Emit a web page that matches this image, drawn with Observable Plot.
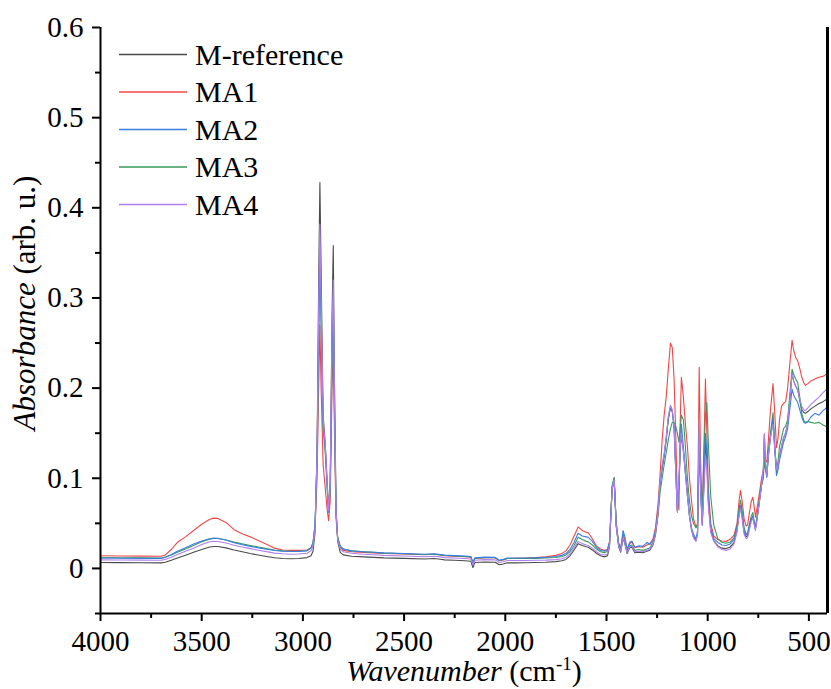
<!DOCTYPE html>
<html><head><meta charset="utf-8">
<script src="https://cdn.jsdelivr.net/npm/d3@7"></script>
<script src="https://cdn.jsdelivr.net/npm/@observablehq/plot@0.6"></script>
<style>body{margin:0;background:#fff}#chart{width:831px;height:689px}
svg, svg text{font-family:"Liberation Serif","Tinos","Times New Roman","DejaVu Serif",serif !important;}</style>
</head><body><div id="chart"></div>
<script>
const seriesNames = ["M-reference", "MA1", "MA2", "MA3", "MA4"];
const seriesColors = ["#4a4a4a", "#f04848", "#3a7fe0", "#3a9a5c", "#b080ee"];
const drawOrder = ["M-reference", "MA1", "MA3", "MA2", "MA4"];

const wavenumber = [4000,3900,3800,3700,3680,3650,3620,3580,3540,3500,3460,3440,3420,3380,3340,3300,3260,3220,3180,3140,3100,3060,3020,2980,2960,2950,2940,2930,2922,2916,2910,2900,2890,2880,2873,2865,2856,2850,2844,2836,2828,2815,2800,2760,2700,2650,2600,2500,2400,2350,2320,2300,2250,2200,2170,2160,2150,2100,2050,2030,2010,1990,1950,1900,1850,1800,1750,1720,1700,1680,1660,1640,1620,1600,1590,1570,1550,1530,1510,1495,1485,1472,1462,1452,1440,1430,1418,1410,1398,1385,1375,1360,1340,1320,1300,1285,1270,1258,1245,1235,1225,1215,1205,1195,1184,1175,1166,1158,1150,1142,1136,1130,1120,1110,1100,1090,1080,1070,1058,1050,1042,1035,1027,1018,1011,1004,997,985,970,950,930,910,890,870,855,845,838,830,820,810,803,795,785,777,770,764,750,735,725,720,715,708,700,690,677,668,660,652,645,635,625,615,605,595,583,575,565,555,545,535,525,517,505,490,470,450,430,410];

const ma1 = [.0140,.0138,.0136,.0135,.0150,.0210,.0290,.0350,.0420,.0490,.0545,.0558,.0555,.0510,.0430,.0385,.0350,.0310,.0268,.0225,.0205,.0200,.0200,.0205,.0230,.0280,.0450,.1000,.2000,.2700,.2000,.1150,.0900,.0650,.0530,.0750,.2000,.2500,.1500,.0550,.0330,.0230,.0200,.0185,.0178,.0172,.0165,.0160,.0152,.0158,.0150,.0140,.0135,.0130,.0125,.0060,.0110,.0120,.0118,.0085,.0095,.0110,.0112,.0115,.0120,.0128,.0145,.0165,.0195,.0260,.0360,.0460,.0420,.0400,.0395,.0330,.0250,.0215,.0200,.0210,.0300,.0900,.0980,.0500,.0280,.0220,.0380,.0330,.0210,.0270,.0300,.0230,.0240,.0235,.0260,.0275,.0330,.0450,.0720,.1050,.1420,.1700,.1900,.2200,.2500,.2450,.2100,.1500,.0800,.0650,.1600,.2120,.1900,.1600,.1350,.1000,.0750,.0550,.0460,.0500,.2230,.1200,.0570,.1400,.2100,.1500,.0900,.0500,.0360,.0320,.0305,.0300,.0320,.0370,.0500,.0750,.0865,.0750,.0550,.0470,.0480,.0600,.0740,.0790,.0680,.0570,.0750,.0980,.1100,.1230,.1200,.1180,.1420,.1750,.2050,.1700,.1340,.1450,.1650,.1800,.1830,.1850,.2000,.2250,.2530,.2420,.2340,.2300,.2220,.2120,.2060,.2030,.2050,.2080,.2100,.2120,.2130,.2160];

const ma2 = [.0115,.0113,.0112,.0111,.0125,.0155,.0190,.0230,.0270,.0305,.0330,.0336,.0335,.0315,.0285,.0262,.0245,.0228,.0212,.0198,.0190,.0188,.0188,.0195,.0225,.0280,.0480,.1250,.2700,.3600,.2800,.1600,.1350,.0900,.0620,.0900,.2400,.3000,.1800,.0600,.0340,.0245,.0215,.0195,.0185,.0180,.0172,.0165,.0158,.0162,.0155,.0148,.0142,.0138,.0132,.0065,.0118,.0125,.0122,.0090,.0100,.0115,.0115,.0115,.0118,.0122,.0132,.0145,.0165,.0210,.0290,.0390,.0360,.0350,.0345,.0300,.0235,.0200,.0190,.0210,.0290,.0880,.0970,.0480,.0270,.0215,.0420,.0360,.0210,.0290,.0300,.0235,.0250,.0245,.0290,.0265,.0310,.0420,.0650,.0950,.1100,.1250,.1450,.1650,.1800,.1750,.1550,.1100,.0640,.0900,.1300,.1600,.1350,.1100,.0850,.0600,.0450,.0380,.0330,.0420,.1500,.0900,.0500,.1000,.1500,.1300,.0800,.0450,.0330,.0290,.0260,.0255,.0270,.0320,.0450,.0620,.0700,.0600,.0420,.0370,.0380,.0460,.0550,.0580,.0500,.0440,.0650,.0900,.1050,.1450,.1150,.1010,.1250,.1450,.1660,.1300,.1030,.1100,.1200,.1300,.1400,.1460,.1550,.1750,.1990,.1920,.1880,.1840,.1760,.1680,.1620,.1610,.1630,.1680,.1720,.1700,.1750,.1790];

const ma3 = [.0120,.0118,.0117,.0116,.0125,.0150,.0180,.0215,.0255,.0295,.0325,.0332,.0332,.0315,.0292,.0272,.0255,.0238,.0220,.0205,.0195,.0190,.0190,.0198,.0228,.0285,.0490,.1200,.2500,.3400,.2700,.1550,.1300,.0900,.0630,.0880,.2300,.2900,.1700,.0600,.0340,.0245,.0215,.0195,.0185,.0178,.0170,.0163,.0155,.0158,.0150,.0143,.0138,.0133,.0128,.0062,.0112,.0120,.0118,.0088,.0098,.0110,.0110,.0110,.0112,.0115,.0122,.0132,.0150,.0185,.0255,.0345,.0320,.0300,.0295,.0260,.0215,.0185,.0175,.0190,.0270,.0920,.1010,.0520,.0280,.0210,.0350,.0300,.0190,.0250,.0260,.0200,.0210,.0200,.0215,.0230,.0290,.0400,.0600,.0850,.1000,.1150,.1280,.1420,.1550,.1620,.1620,.1580,.1500,.1400,.1550,.1700,.1650,.1350,.1000,.0750,.0580,.0500,.0450,.0480,.1550,.1000,.0600,.1300,.1700,.1840,.1400,.0800,.0480,.0330,.0290,.0280,.0290,.0340,.0470,.0660,.0755,.0650,.0450,.0380,.0390,.0480,.0580,.0620,.0520,.0450,.0680,.0920,.1000,.1200,.1100,.1020,.1300,.1500,.1730,.1350,.1070,.1200,.1350,.1450,.1550,.1580,.1650,.1900,.2210,.2150,.2100,.2060,.1900,.1720,.1640,.1620,.1630,.1620,.1610,.1620,.1590,.1570];

const ma4 = [.0095,.0093,.0092,.0091,.0100,.0125,.0155,.0190,.0225,.0265,.0295,.0300,.0298,.0282,.0258,.0238,.0220,.0202,.0186,.0170,.0162,.0158,.0160,.0168,.0195,.0250,.0440,.1250,.2900,.3820,.3000,.1650,.1400,.0950,.0640,.0950,.2600,.3200,.1900,.0620,.0320,.0215,.0185,.0168,.0158,.0152,.0145,.0138,.0130,.0135,.0128,.0120,.0115,.0110,.0105,.0040,.0090,.0098,.0095,.0065,.0075,.0088,.0088,.0088,.0090,.0092,.0098,.0108,.0125,.0160,.0225,.0300,.0275,.0260,.0255,.0225,.0185,.0158,.0148,.0160,.0255,.0880,.0985,.0480,.0250,.0190,.0340,.0290,.0175,.0240,.0245,.0185,.0190,.0185,.0200,.0215,.0270,.0380,.0620,.0980,.1150,.1280,.1450,.1680,.1810,.1760,.1600,.1100,.0620,.1000,.1350,.1500,.1300,.1050,.0800,.0580,.0430,.0340,.0300,.0380,.1640,.0900,.0480,.0900,.1250,.1100,.0700,.0400,.0300,.0240,.0210,.0200,.0215,.0270,.0410,.0590,.0660,.0560,.0380,.0330,.0340,.0420,.0520,.0560,.0480,.0420,.0640,.0900,.1100,.1500,.1200,.1030,.1250,.1450,.1600,.1300,.1100,.1150,.1250,.1350,.1450,.1500,.1600,.1850,.2160,.2080,.2020,.1980,.1880,.1800,.1760,.1750,.1780,.1820,.1860,.1900,.1950,.1990];

const mRef = [.0065,.0064,.0063,.0062,.0068,.0090,.0115,.0145,.0180,.0210,.0238,.0244,.0243,.0228,.0205,.0185,.0165,.0148,.0132,.0118,.0110,.0108,.0110,.0120,.0140,.0190,.0400,.1300,.3200,.4280,.3300,.1700,.1400,.0950,.0640,.0950,.2800,.3580,.2100,.0650,.0300,.0175,.0150,.0135,.0128,.0122,.0117,.0112,.0105,.0110,.0102,.0095,.0090,.0085,.0080,.0010,.0065,.0072,.0068,.0040,.0050,.0062,.0062,.0063,.0065,.0068,.0075,.0085,.0100,.0140,.0205,.0275,.0255,.0240,.0235,.0205,.0168,.0140,.0128,.0140,.0240,.0900,.1000,.0470,.0240,.0180,.0330,.0280,.0165,.0230,.0235,.0175,.0180,.0175,.0190,.0205,.0260,.0370,.0610,.0960,.1120,.1250,.1420,.1650,.1780,.1740,.1580,.1100,.0640,.0950,.1300,.1480,.1300,.1050,.0800,.0580,.0430,.0350,.0310,.0380,.1450,.0850,.0480,.0950,.1400,.1200,.0750,.0420,.0310,.0250,.0225,.0220,.0235,.0285,.0420,.0600,.0680,.0580,.0400,.0350,.0360,.0440,.0540,.0580,.0500,.0440,.0650,.0910,.1080,.1480,.1180,.1040,.1270,.1460,.1650,.1320,.1100,.1150,.1250,.1350,.1450,.1500,.1600,.1850,.2160,.2080,.2020,.1980,.1860,.1760,.1730,.1720,.1740,.1770,.1800,.1830,.1850,.1880];

const xMajorTicks = [4000, 3500, 3000, 2500, 2000, 1500, 1000, 500];
const xMinorTicks = [3750, 3250, 2750, 2250, 1750, 1250, 750];
const yMajorTicks = [0, 0.1, 0.2, 0.3, 0.4, 0.5, 0.6];
const yMinorTicks = [-0.05, 0.05, 0.15, 0.25, 0.35, 0.45, 0.55];

const valuesBySeries = {"M-reference": mRef, "MA1": ma1, "MA2": ma2, "MA3": ma3, "MA4": ma4};
const table = [];
for (const s of drawOrder) {
  valuesBySeries[s].forEach((v, i) => table.push({series: s, wn: wavenumber[i], a: v}));
}

const font = "Liberation Serif, Tinos, Times New Roman, DejaVu Serif, serif";
const plot = Plot.plot({
  width: 831, height: 689,
  marginTop: 27, marginLeft: 100, marginRight: 4, marginBottom: 76,
  x: {domain: [4000, 408]},
  y: {domain: [-0.05, 0.6]},
  color: {domain: seriesNames, range: seriesColors},
  style: {fontFamily: font, fontSize: "28px", color: "#000", background: "#fff"},
  marks: [
    Plot.line(table, {x: "wn", y: "a", z: "series", stroke: "series", strokeWidth: 1.1}),
    Plot.axisX({ticks: xMajorTicks, tickSize: 8, tickPadding: 9, tickFormat: d => String(d), label: null, strokeWidth: 2, fontSize: 29}),
    Plot.axisX({ticks: xMinorTicks, tickSize: 5, tickFormat: () => "", label: null, strokeWidth: 2}),
    Plot.axisY({ticks: yMajorTicks, tickSize: 8, tickPadding: 9, tickFormat: d => d === 0 ? "0" : d.toFixed(1), label: null, strokeWidth: 2, fontSize: 29}),
    Plot.axisY({ticks: yMinorTicks, tickSize: 5, tickFormat: () => "", label: null, strokeWidth: 2}),
    Plot.ruleY([-0.05], {strokeWidth: 2}),
    Plot.ruleX([4000], {strokeWidth: 2}),
    Plot.ruleX([408], {strokeWidth: 3})
  ]
});

const svg = d3.select(plot);
// Legend
const legend = svg.append("g").attr("font-family", font).attr("font-size", 30).attr("text-anchor", "start");
seriesNames.forEach((name, i) => {
  const y = 54.5 + i * 37.5;
  legend.append("line").attr("x1", 119).attr("x2", 187).attr("y1", y).attr("y2", y)
    .attr("stroke", seriesColors[i]).attr("stroke-width", 1.4);
  legend.append("text").attr("x", 195).attr("y", y + 10).attr("fill", "#000").attr("text-anchor", "start").text(name);
});
// X label
const xl = svg.append("text").attr("x", 464).attr("y", 681).attr("text-anchor", "middle")
  .attr("font-family", font).attr("font-size", 30).attr("fill", "#000");
xl.append("tspan").attr("font-style", "italic").text("Wavenumber");
xl.append("tspan").text(" (cm");
xl.append("tspan").attr("font-size", 19).attr("dy", -11).text("-1");
xl.append("tspan").attr("dy", 11).text(")");
// Y label
const yl = svg.append("text").attr("transform", "translate(35,303) rotate(-90)").attr("text-anchor", "middle")
  .attr("font-family", font).attr("font-size", 31).attr("fill", "#000");
yl.append("tspan").attr("font-style", "italic").text("Absorbance");
yl.append("tspan").text(" (arb. u.)");

document.getElementById("chart").appendChild(plot);
</script></body></html>
